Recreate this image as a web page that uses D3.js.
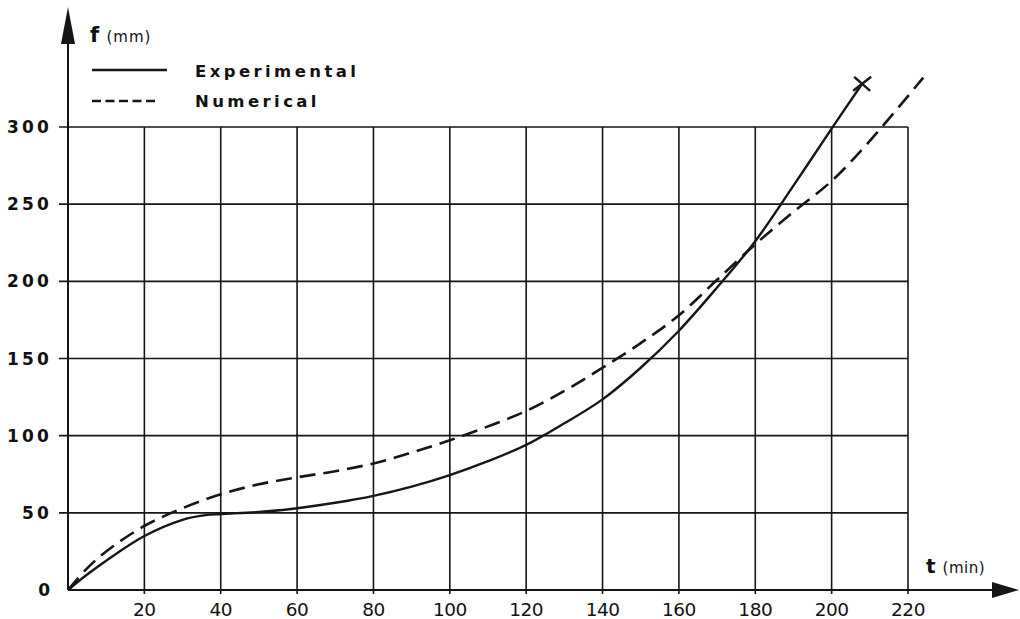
<!DOCTYPE html>
<html><head><meta charset="utf-8">
<script src="https://cdn.jsdelivr.net/npm/d3@7"></script>
<style>
html,body{margin:0;padding:0;background:#fff;}
svg{display:block;}
text{font-family:"DejaVu Sans",sans-serif;fill:#111;}
</style></head>
<body>
<svg id="chart" width="1020" height="619"></svg>
<script>
// ---- data ----
const tExperimental = [0,5,10,20,30,36,40,50,60,70,80,90,100,110,120,130,140,150,160,170,180,190,200,208];
const fExperimental = [0,10,19,35,45.5,48.5,49.2,50.5,53,56.5,61,67,74.5,83.5,94,108,123.5,144,168,196,226,262,299,328];
const tNumerical = [0,5,10,20,30,40,50,60,70,80,90,100,110,120,130,140,150,160,170,180,190,200,210,224];
const fNumerical = [0,14,25,41.5,53,62,68.5,73,77,82,89,97,106,116,129,144,160,178,201,224,245,265,291,332];
const xTicks = [20,40,60,80,100,120,140,160,180,200,220];
const yTicks = [50,100,150,200,250,300];
const yTickLabels = ["50","100","150","200","250","300"];
const legendLabels = ["Experimental","Numerical"];

// ---- drawing ----
const svg = d3.select("#chart");
const x = d3.scaleLinear().domain([0,220]).range([68,908]);
const y = d3.scaleLinear().domain([0,300]).range([590,127]);
const ink = "#161616";

// grid
const g = svg.append("g").attr("stroke", ink).attr("stroke-width", 1.6).attr("fill","none");
xTicks.forEach(t => {
  g.append("line").attr("x1", x(t)).attr("x2", x(t)).attr("y1", y(0)+4).attr("y2", y(300));
});
yTicks.forEach(v => {
  g.append("line").attr("x1", x(0)-9).attr("x2", x(220)).attr("y1", y(v)).attr("y2", y(v));
});

// axes
g.append("line").attr("x1", x(0)).attr("x2", 1000).attr("y1", y(0)).attr("y2", y(0)).attr("stroke-width",2);
g.append("line").attr("x1", x(0)).attr("x2", x(0)).attr("y1", y(0)).attr("y2", 30).attr("stroke-width",2);
svg.append("path").attr("d", `M${x(0)},7 L${x(0)-7},44 L${x(0)+7},44 Z`).attr("fill", ink);
svg.append("path").attr("d", `M1019,${y(0)} L992,${y(0)-8} L992,${y(0)+8} Z`).attr("fill", ink);

// tick labels
svg.append("g").selectAll("text").data(yTicks).join("text")
  .attr("x", 52).attr("y", v => y(v)).attr("dy","0.36em")
  .attr("text-anchor","end").attr("font-size", 17).attr("font-weight","bold")
  .attr("letter-spacing", 3.2)
  .text((v,i) => yTickLabels[i]);
svg.append("text").attr("x", 50).attr("y", y(0)).attr("dy","0.36em")
  .attr("text-anchor","end").attr("font-size",17).attr("font-weight","bold").text("0");
svg.append("g").selectAll("text").data(xTicks).join("text")
  .attr("x", t => x(t)).attr("y", 616)
  .attr("text-anchor","middle").attr("font-size", 18.5)
  .attr("letter-spacing", -0.5)
  .text(t => t);

// axis titles
const ft = svg.append("text").attr("x", 90).attr("y", 42).attr("font-weight","bold");
ft.append("tspan").attr("font-size", 21).text("f ");
ft.append("tspan").attr("font-size", 15).attr("font-weight","normal").attr("letter-spacing",1).text("(mm)");
const tt = svg.append("text").attr("x", 926).attr("y", 573).attr("font-weight","bold");
tt.append("tspan").attr("font-size", 20).text("t ");
tt.append("tspan").attr("font-size", 15).attr("font-weight","normal").attr("letter-spacing",0.5).text("(min)");

// legend
svg.append("line").attr("x1",92).attr("x2",167).attr("y1",70).attr("y2",70)
  .attr("stroke",ink).attr("stroke-width",2.4);
svg.append("line").attr("x1",92).attr("x2",155).attr("y1",101).attr("y2",101)
  .attr("stroke",ink).attr("stroke-width",2.4).attr("stroke-dasharray","9,4.5");
svg.append("g").selectAll("text").data(legendLabels).join("text")
  .attr("x",195).attr("y",(d,i)=> 77 + i*30)
  .attr("font-size",16.5).attr("font-weight","bold").attr("letter-spacing",3.4)
  .text(d=>d);

// curves
const line = d3.line().x(d => x(d[0])).y(d => y(d[1])).curve(d3.curveCatmullRom.alpha(0.5));
const expData = tExperimental.map((t,i)=>[t,fExperimental[i]]);
const numData = tNumerical.map((t,i)=>[t,fNumerical[i]]);
svg.append("path").datum(expData).attr("d", line)
  .attr("fill","none").attr("stroke",ink).attr("stroke-width",2.4);
svg.append("path").datum(numData).attr("d", line)
  .attr("fill","none").attr("stroke",ink).attr("stroke-width",2.6)
  .attr("stroke-dasharray","16,8");

// end cross on experimental
const last = expData[expData.length-1];
const cx = x(last[0]), cy = y(last[1]);
svg.append("path")
  .attr("d", `M${cx-8},${cy-7} L${cx+8},${cy+7} M${cx+9},${cy-7} L${cx-9},${cy+7}`)
  .attr("stroke",ink).attr("stroke-width",2.4).attr("fill","none");
</script>
</body></html>
